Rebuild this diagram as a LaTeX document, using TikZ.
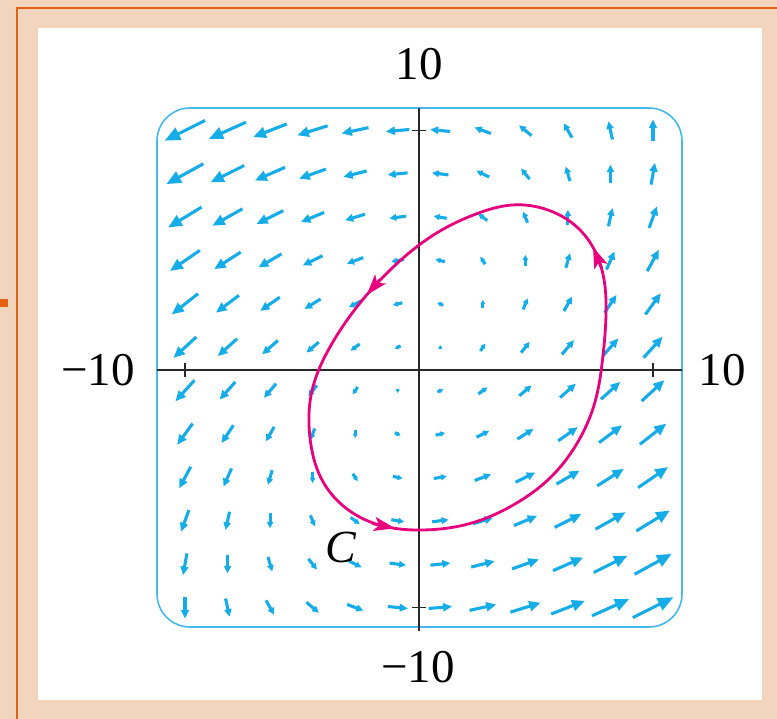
\documentclass[tikz,border=0pt]{standalone}
\usepackage{fontspec}
\setmainfont{Liberation Serif}
\usetikzlibrary{arrows.meta,hobby}
\definecolor{fieldcyan}{RGB}{22,172,232}
\definecolor{boxcyan}{RGB}{70,184,236}
\definecolor{curvemag}{RGB}{230,0,126}
\definecolor{peach}{RGB}{243,213,190}
\definecolor{orangeline}{RGB}{226,98,20}
\definecolor{axisgray}{RGB}{40,40,40}
\tikzset{
  fieldarrow/.style={draw=fieldcyan, line width=3.1pt, line cap=butt},
  axisline/.style={draw=axisgray, line width=1.8pt},
  tickline/.style={draw=axisgray, line width=1.6pt},
  curveline/.style={draw=curvemag, line width=2.8pt},
  curvetip/.style={draw=curvemag, line width=2.8pt, -{Stealth[length=21pt,width=14pt,inset=5pt]}},
  lbl/.style={inner sep=0pt, font=\fontsize{47}{50}\selectfont},
  clbl/.style={inner sep=0pt, font=\fontsize{46}{50}\selectfont\itshape}
}
\begin{document}
\begin{tikzpicture}[x=1pt,y=-1pt]
\useasboundingbox (0,0) rectangle (777,719);
% background
\fill[peach] (0,0) rectangle (777,719);
\draw[orangeline, line width=2pt] (17,719) -- (17,8) -- (777,8);
\fill[orangeline] (0,299) rectangle (8,307);
\fill[white] (38,28) rectangle (762,700);
% frame
\draw[boxcyan, line width=1.6pt, rounded corners=33pt] (157,108) rectangle (682,627);
% vector field F = (x-y, x)
\foreach \i in {0,...,11}{
  \foreach \j in {0,...,11}{
    \pgfmathsetmacro\vxx{-10+20*\i/11}
    \pgfmathsetmacro\vyy{-10+20*\j/11}
    \pgfmathsetmacro\vfx{(\vxx)-(\vyy)}
    \pgfmathsetmacro\vfy{\vxx}
    \pgfmathsetmacro\vm{sqrt((\vfx)*(\vfx)+(\vfy)*(\vfy))}
    \pgfmathsetmacro\vL{1.9*\vm+2.5}
    \pgfmathsetmacro\vux{(\vfx)/\vm}
    \pgfmathsetmacro\vuy{-1*(\vfy)/\vm}
    \pgfmathsetmacro\vcx{419+23.4*(\vxx)}
    \pgfmathsetmacro\vcy{369-23.85*(\vyy)}
    \pgfmathsetmacro\vhl{0.3*\vL+1.8}
    \pgfmathsetmacro\vhw{0.12*\vL+1.6}
    \pgfmathsetmacro\vtx{\vcx+0.5*\vL*(\vux)}
    \pgfmathsetmacro\vty{\vcy+0.5*\vL*(\vuy)}
    \pgfmathsetmacro\vbx{\vtx-\vhl*(\vux)}
    \pgfmathsetmacro\vby{\vty-\vhl*(\vuy)}
    \pgfmathsetmacro\vsx{\vcx-0.5*\vL*(\vux)}
    \pgfmathsetmacro\vsy{\vcy-0.5*\vL*(\vuy)}
    \pgfmathsetmacro\vex{\vbx+0.6*(\vux)}
    \pgfmathsetmacro\vey{\vby+0.6*(\vuy)}
    \pgfmathsetmacro\vpx{\vbx-\vhw*(\vuy)}
    \pgfmathsetmacro\vpy{\vby+\vhw*(\vux)}
    \pgfmathsetmacro\vqx{\vbx+\vhw*(\vuy)}
    \pgfmathsetmacro\vqy{\vby-\vhw*(\vux)}
    \draw[fieldarrow] (\vsx,\vsy) -- (\vex,\vey);
    \fill[fieldcyan] (\vtx,\vty) -- (\vpx,\vpy) -- (\vqx,\vqy) -- cycle;
  }
}
% axes
\draw[axisline] (157,370) -- (682,370);
\draw[axisline] (419,108) -- (419,631);
\draw[tickline] (185,363) -- (185,377);
\draw[tickline] (653,363) -- (653,377);
\draw[tickline] (412,130.5) -- (426,130.5);
\draw[tickline] (412,607.5) -- (426,607.5);
% curve C
\draw[curveline, use Hobby shortcut, closed=true]
  (421.7,530) .. (470,523.5) .. (515,504) .. (552,476) .. (579,440)
  .. (595,402) .. (602.5,360) .. (606,315) .. (602.5,272) .. (582,232)
  .. (548,210) .. (512,205) .. (476,214) .. (440,231) .. (397,263.5)
  .. (360,303) .. (330,347) .. (311.7,392) .. (310,438) .. (321,478)
  .. (347,509) .. (385,526.5);
\draw[curvetip] (601.5,268) -- (593,247);
\draw[curvetip] (380,279.5) -- (366.7,295);
\draw[curvetip] (372,523.5) -- (395,528.3);
% labels
\node[lbl] (ytop) at (419,64) {10};
\node[lbl] (xleft) at (98,370) {−10};
\node[lbl] (xright) at (722,370) {10};
\node[lbl] (ybot) at (418,667) {−10};
\node[clbl] (clabel) at (341,547) {C};
\end{tikzpicture}
\end{document}
